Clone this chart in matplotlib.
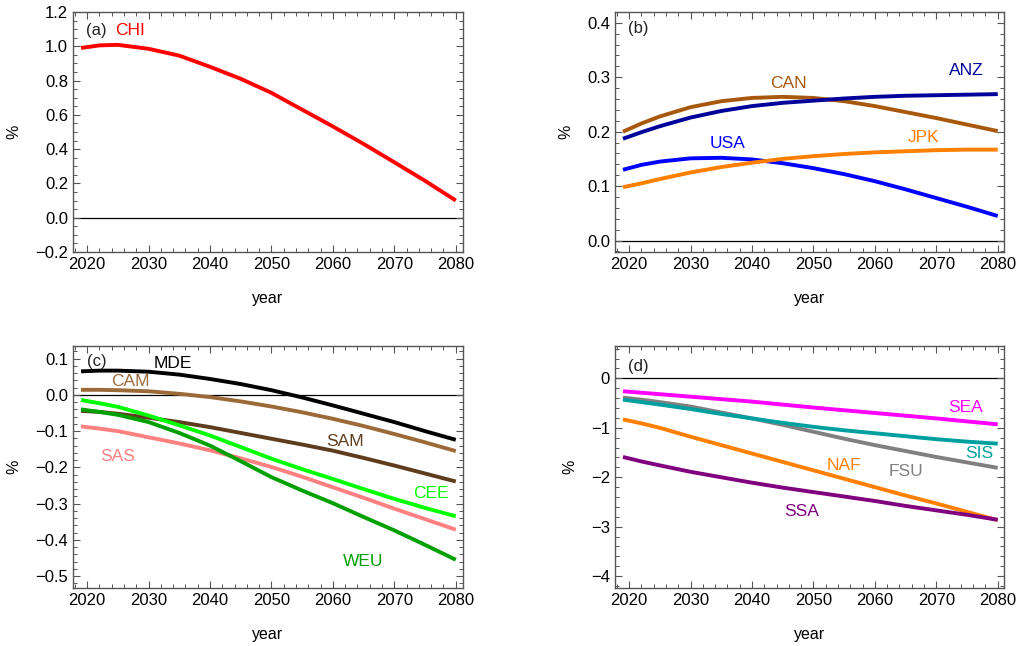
import matplotlib.pyplot as plt
from matplotlib.ticker import MultipleLocator

plt.rcParams['font.family'] = ['Liberation Sans', 'DejaVu Sans']

years = [2019, 2022, 2025, 2030, 2035, 2040, 2045, 2050, 2055, 2060, 2065, 2070, 2075, 2080]

# panel (a)
chi = [0.99, 1.005, 1.008, 0.985, 0.945, 0.88, 0.81, 0.728, 0.63, 0.532, 0.43, 0.323, 0.215, 0.10]

# panel (b)
can = [0.200, 0.215, 0.228, 0.245, 0.256, 0.262, 0.264, 0.262, 0.256, 0.247, 0.236, 0.225, 0.213, 0.201]
anz = [0.187, 0.199, 0.210, 0.226, 0.238, 0.247, 0.253, 0.257, 0.261, 0.264, 0.266, 0.267, 0.268, 0.269]
usa = [0.130, 0.139, 0.145, 0.151, 0.152, 0.149, 0.142, 0.133, 0.122, 0.109, 0.094, 0.078, 0.062, 0.045]
jpk = [0.098, 0.105, 0.113, 0.125, 0.135, 0.143, 0.150, 0.155, 0.159, 0.162, 0.164, 0.166, 0.167, 0.167]

# panel (c)
mde = [0.065, 0.067, 0.067, 0.064, 0.056, 0.044, 0.030, 0.013, -0.007, -0.029, -0.052, -0.075, -0.100, -0.124]
cam = [0.014, 0.014, 0.013, 0.010, 0.003, -0.006, -0.018, -0.032, -0.048, -0.066, -0.086, -0.108, -0.131, -0.155]
sam = [-0.044, -0.047, -0.052, -0.063, -0.075, -0.089, -0.105, -0.121, -0.137, -0.154, -0.174, -0.195, -0.217, -0.239]
cee = [-0.014, -0.023, -0.033, -0.057, -0.084, -0.112, -0.144, -0.176, -0.205, -0.232, -0.260, -0.287, -0.312, -0.335]
sas = [-0.087, -0.093, -0.100, -0.117, -0.134, -0.153, -0.175, -0.199, -0.226, -0.255, -0.284, -0.314, -0.343, -0.372]
weu = [-0.040, -0.047, -0.055, -0.075, -0.105, -0.140, -0.183, -0.227, -0.264, -0.299, -0.337, -0.374, -0.414, -0.455]

# panel (d)
sea = [-0.26, -0.29, -0.32, -0.37, -0.42, -0.47, -0.53, -0.59, -0.645, -0.70, -0.755, -0.81, -0.87, -0.93]
sis = [-0.43, -0.48, -0.53, -0.62, -0.72, -0.81, -0.90, -0.98, -1.05, -1.11, -1.17, -1.23, -1.28, -1.32]
fsu = [-0.39, -0.43, -0.48, -0.57, -0.69, -0.81, -0.94, -1.08, -1.22, -1.35, -1.47, -1.59, -1.70, -1.81]
naf = [-0.83, -0.91, -1.00, -1.18, -1.35, -1.52, -1.69, -1.86, -2.03, -2.20, -2.37, -2.53, -2.70, -2.87]
ssa = [-1.59, -1.68, -1.76, -1.89, -2.00, -2.11, -2.21, -2.30, -2.39, -2.48, -2.58, -2.67, -2.76, -2.86]

FRAME = '#555555'
LW = 2.8


def setup(ax, ylim, ymajor, yminor, tag, tagpos):
    ax.set_xlim(2017.7, 2081.1)
    ax.set_ylim(*ylim)
    ax.axhline(0, color='black', lw=0.9, zorder=1)
    ax.xaxis.set_major_locator(MultipleLocator(10))
    ax.xaxis.set_minor_locator(MultipleLocator(2))
    ax.yaxis.set_major_locator(MultipleLocator(ymajor))
    ax.yaxis.set_minor_locator(MultipleLocator(yminor))
    ax.tick_params(which='both', direction='in', top=True, right=True,
                   color=FRAME, labelsize=12, labelcolor='black')
    ax.tick_params(which='major', length=5, width=0.8)
    ax.tick_params(which='minor', length=2.8, width=0.7)
    for s in ax.spines.values():
        s.set_color(FRAME)
        s.set_linewidth(1.0)
    ax.set_xlabel('year', fontsize=11.5, labelpad=14)
    ax.set_ylabel('%', fontsize=11.5, labelpad=10)
    ax.text(tagpos[0], tagpos[1], tag, fontsize=12, color='#222222',
            ha='center', va='center')


fig = plt.figure(figsize=(10.17, 6.46), dpi=100)
axa = fig.add_axes([0.0718, 0.610, 0.383, 0.3715])
axb = fig.add_axes([0.6047, 0.610, 0.383, 0.3715])
axc = fig.add_axes([0.0718, 0.0898, 0.383, 0.3746])
axd = fig.add_axes([0.6047, 0.0898, 0.383, 0.3746])

# (a)
setup(axa, (-0.2, 1.2), 0.2, 0.05, '(a)', (2021.5, 1.09))
axa.yaxis.set_major_formatter(lambda v, p: f'{v:.1f}'.replace('-', '\u2212'))
axa.plot(years, chi, color='#ff0000', lw=LW, solid_capstyle='butt')
axa.text(2027, 1.09, 'CHI', color='#ff0000', fontsize=12.5, ha='center', va='center')

# (b)
setup(axb, (-0.021, 0.42), 0.1, 0.02, '(b)', (2021.5, 0.389))
axb.yaxis.set_major_formatter(lambda v, p: f'{v:.1f}'.replace('-', '\u2212'))
b_series = [(can, '#a8580c', 'CAN', 2046, 0.289),
            (anz, '#00009a', 'ANZ', 2074.8, 0.312),
            (usa, '#0000ff', 'USA', 2036, 0.178),
            (jpk, '#ff8000', 'JPK', 2068, 0.19)]
for vals, col, name, tx, ty in b_series:
    axb.plot(years, vals, color=col, lw=LW, solid_capstyle='butt')
    axb.text(tx, ty, name, color=col, fontsize=12.5, ha='center', va='center')

# (c)
setup(axc, (-0.533, 0.135), 0.1, 0.02, '(c)', (2021.5, 0.093))
axc.yaxis.set_major_formatter(lambda v, p: f'{v:.1f}'.replace('-', '\u2212'))
c_series = [(mde, '#000000', 'MDE', 2034, 0.088),
            (cam, '#9c6a38', 'CAM', 2027, 0.037),
            (sam, '#5e3c1e', 'SAM', 2062, -0.13),
            (cee, '#00ff00', 'CEE', 2076, -0.271),
            (sas, '#ff8080', 'SAS', 2025, -0.17),
            (weu, '#00a000', 'WEU', 2065, -0.459)]
for vals, col, name, tx, ty in c_series:
    axc.plot(years, vals, color=col, lw=LW, solid_capstyle='butt')
    axc.text(tx, ty, name, color=col, fontsize=12.5, ha='center', va='center')

# (d)
setup(axd, (-4.24, 0.655), 1, 0.2, '(d)', (2021.5, 0.24))
axd.yaxis.set_major_formatter(lambda v, p: f'{v:.0f}'.replace('-', '\u2212'))
d_series = [(sea, '#ff00ff', 'SEA', 2074.8, -0.59),
            (fsu, '#808080', 'FSU', 2065, -1.89),
            (sis, '#00a0a0', 'SIS', 2077, -1.52),
            (naf, '#ff8000', 'NAF', 2055, -1.76),
            (ssa, '#800080', 'SSA', 2048, -2.70)]
for vals, col, name, tx, ty in d_series:
    axd.plot(years, vals, color=col, lw=LW, solid_capstyle='butt')
    axd.text(tx, ty, name, color=col, fontsize=12.5, ha='center', va='center')

fig.savefig('out.png', dpi=100)
